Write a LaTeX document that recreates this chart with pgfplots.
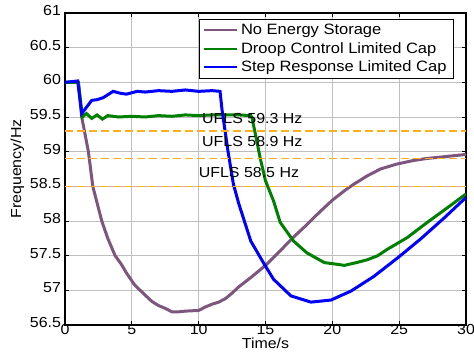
\documentclass[border=0pt]{standalone}
\usepackage{pgfplots}
\pgfplotsset{compat=1.18}
\usepackage{fontspec}
\setmainfont{Liberation Sans}[FakeStretch=1.1]
\definecolor{nes}{RGB}{125,85,125}
\definecolor{dcg}{RGB}{0,128,0}
\definecolor{srb}{RGB}{0,0,255}
\definecolor{ufls}{RGB}{255,175,30}
\definecolor{gridc}{RGB}{190,190,190}
\begin{document}
\begin{tikzpicture}
\begin{axis}[
  scale only axis,
  width=401bp, height=312bp,
  xmin=0, xmax=30, ymin=56.5, ymax=61,
  xtick={0,5,...,30},
  ytick={56.5,57,...,61},
  yticklabels={56.5,57,57.5,58,58.5,59,59.5,60,60.5,61},
  /pgf/number format/assume math mode=true,
  tick label style={font=\fontsize{14.5bp}{17bp}\selectfont},
  yticklabel style={xshift=-0.5bp, yshift=2.5bp, inner ysep=0bp},
  xticklabel style={yshift=1bp, inner ysep=0.5bp},
  label style={font=\fontsize{14.5bp}{17bp}\selectfont},
  xlabel={Time/s}, ylabel={Frequency/Hz},
  xlabel style={yshift=-2bp, inner ysep=0bp},
  ylabel style={yshift=-1bp},
  grid=major,
  major grid style={gridc, line width=1pt},
  axis line style={black, line width=1.2pt},
  tick align=inside,
  tick style={black, line width=0.8pt},
  major tick length=4bp,
  legend style={at={(rel axis cs:0.970,0.981)}, anchor=north east,
    draw=black, line width=1pt, fill=white,
    font=\fontsize{15bp}{18bp}\selectfont,
    row sep=2bp, inner xsep=4bp, inner ysep=3bp,
    nodes={inner xsep=3bp}},
  legend cell align=left,
  legend image code/.code={\draw[#1, line width=2pt] (0bp,0bp) -- (33bp,0bp);},
]
\coordinate (bl) at (rel axis cs:0,0);
\coordinate (tr) at (rel axis cs:1,1);
\addplot[nes, line width=3bp] coordinates {
(0,60) (1.0,60) (1.25,59.5) (1.75,59.0) (2.08,58.5) (2.75,58.0) (3.2,57.75) (3.75,57.5)
(4.2,57.38) (4.6,57.25) (5.2,57.08) (6,56.93) (6.5,56.84) (7,56.78) (7.5,56.74) (8,56.69)
(8.5,56.69) (9,56.7) (10,56.71) (10.5,56.76) (11,56.8) (11.5,56.83) (12,56.88) (12.5,56.96)
(13,57.05) (14,57.2) (15,57.36) (16,57.55) (17,57.75) (18,57.93) (19,58.12) (20,58.3)
(21,58.45) (21.6,58.53) (22.6,58.65) (23.6,58.75) (24.8,58.82) (26,58.87) (27,58.9) (28,58.92) (29,58.94) (30,58.96)
};
\addlegendentry{No Energy Storage}
\addplot[dcg, line width=3bp] coordinates {
(0,60) (1.0,60) (1.3,59.5) (1.6,59.55) (2.0,59.48) (2.4,59.53) (2.8,59.47) (3.2,59.52)
(4,59.5) (5,59.51) (6,59.5) (7,59.52) (8,59.51) (9,59.53) (10,59.52) (11,59.53) (12,59.53)
(13,59.53) (13.9,59.52) (14.0,59.48) (14.3,59.2) (14.6,58.91) (15.0,58.58) (15.6,58.29)
(16.1,57.98) (17.1,57.71) (18.1,57.54) (19.4,57.4) (20.2,57.38) (20.9,57.36) (21.8,57.4)
(22.6,57.44) (23.4,57.5) (24.1,57.59) (25.6,57.76) (27.1,57.98) (28.6,58.19) (30,58.39)
};
\addlegendentry{Droop Control Limited Cap}
\addplot[srb, line width=3bp] coordinates {
(0,60) (0.95,60.02) (1.25,59.55) (2.0,59.74) (2.4,59.75) (2.87,59.78) (3.6,59.87)
(4.2,59.84) (4.6,59.83) (5.4,59.87) (6,59.86) (7,59.88) (8,59.87) (9,59.89) (10,59.87)
(11,59.88) (11.6,59.87) (11.75,59.6) (12.2,59.0) (12.6,58.53) (13.0,58.25) (13.9,57.71)
(14.9,57.38) (15.6,57.16) (16.9,56.92) (18.4,56.83) (19.9,56.86) (21.4,56.99) (23.1,57.2)
(24.9,57.47) (26.6,57.74) (28.4,58.05) (30,58.34)
};
\addlegendentry{Step Response Limited Cap}
\addplot[ufls, line width=1.5pt, dash pattern=on 8bp off 4bp, forget plot] coordinates {(0,59.3) (30,59.3)};
\addplot[ufls, line width=1.5pt, dash pattern=on 8bp off 4bp, forget plot] coordinates {(0,58.9) (30,58.9)};
\addplot[ufls, line width=1.5pt, dash pattern=on 8bp off 4bp, forget plot] coordinates {(0,58.5) (30,58.5)};
\node[anchor=west, inner sep=0pt, font=\fontsize{14.5bp}{17bp}\selectfont] at (axis cs:10.25,59.48) {UFLS 59.3 Hz};
\node[anchor=west, inner sep=0pt, font=\fontsize{14.5bp}{17bp}\selectfont] at (axis cs:10.25,59.14) {UFLS 58.9 Hz};
\node[anchor=west, inner sep=0pt, font=\fontsize{14.5bp}{17bp}\selectfont] at (axis cs:10.0,58.70) {UFLS 58.5 Hz};
\end{axis}
\pgfresetboundingbox
\path ([xshift=-65bp,yshift=-35bp]bl) rectangle ([xshift=8bp,yshift=13bp]tr);
\end{tikzpicture}
\end{document}
